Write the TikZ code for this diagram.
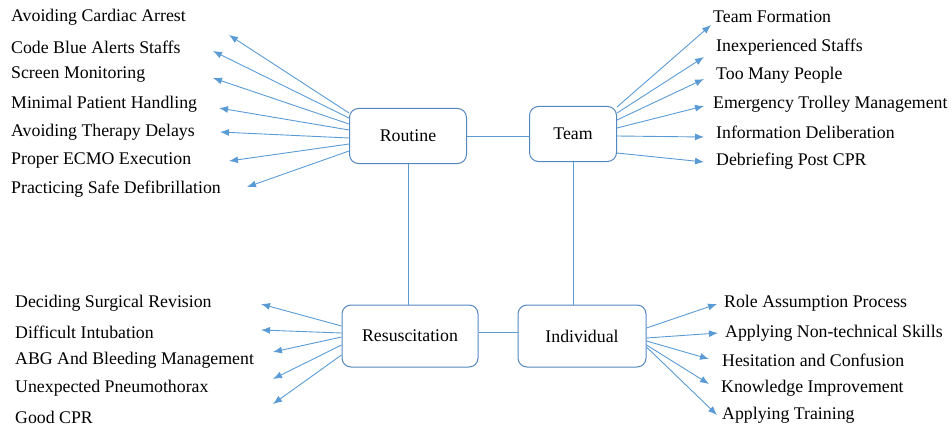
\documentclass[tikz,border=0pt]{standalone}
\usepackage{fontspec}
\setmainfont{Liberation Serif}
\usetikzlibrary{arrows.meta, positioning}
\definecolor{linkblue}{RGB}{91, 155, 213}
\definecolor{boxblue}{RGB}{84, 135, 190}

\begin{document}
\begin{tikzpicture}[x=1pt, y=-1pt,
  hub/.style={draw=boxblue, line width=1pt, rounded corners=9pt, minimum height=55pt,
              inner sep=0pt, font=\fontsize{17.8}{20}\selectfont},
  topic/.style={anchor=west, inner sep=0pt, font=\fontsize{17.8}{20}\selectfont},
  link/.style={draw=linkblue, line width=0.9pt},
  spoke/.style={link, -{Latex[length=9pt, width=7pt]}},
]
\useasboundingbox (0,0) rectangle (952,425);

% Four hubs
\node[hub, minimum width=117pt] (routine) at (408,136) {Routine};
\node[hub, minimum width=87pt] (team) at (573,134) {Team};
\node[hub, minimum width=136pt, minimum height=62pt] (resus) at (410,336) {Resuscitation};
\node[hub, minimum width=128pt, minimum height=62pt] (indiv) at (582,336) {Individual};

% Hub links
\draw[link] (routine.east) -- (routine.east -| team.west);
\draw[link] (routine.south) -- (routine.south |- resus.north);
\draw[link] (team.south) -- (team.south |- indiv.north);
\draw[link] ([yshift=4pt]resus.east) -- ([yshift=4pt]resus.east -| indiv.west);

% Routine topics
\node[topic] (arrest) at (11,17) {Avoiding Cardiac Arrest};
\node[topic] (codeblue) at (11,47) {Code Blue Alerts Staffs};
\node[topic] (screen) at (11,75) {Screen Monitoring};
\node[topic] (handling) at (11,104) {Minimal Patient Handling};
\node[topic] (delays) at (11,132) {Avoiding Therapy Delays};
\node[topic] (ecmo) at (11,161) {Proper ECMO Execution};
\node[topic] (defib) at (11,189) {Practicing Safe Defibrillation};

\coordinate (arrest-tip) at (229,35);
\coordinate (codeblue-tip) at (213,51);
\coordinate (screen-tip) at (213,78);
\coordinate (handling-tip) at (219,108);
\coordinate (delays-tip) at (220,132);
\coordinate (ecmo-tip) at (229,161);
\coordinate (defib-tip) at (247,187);

\draw[spoke] ([yshift=23pt]routine.west) -- (arrest-tip);
\draw[spoke] ([yshift=18pt]routine.west) -- (codeblue-tip);
\draw[spoke] ([yshift=12pt]routine.west) -- (screen-tip);
\draw[spoke] ([yshift=6pt]routine.west) -- (handling-tip);
\draw[spoke] ([yshift=-2pt]routine.west) -- (delays-tip);
\draw[spoke] ([yshift=-8pt]routine.west) -- (ecmo-tip);
\draw[spoke] ([yshift=-15pt]routine.west) -- (defib-tip);

% Team topics
\node[topic] (formation) at (713,17) {Team Formation};
\node[topic] (inexp) at (716,47) {Inexperienced Staffs};
\node[topic] (crowd) at (716,75) {Too Many People};
\node[topic] (trolley) at (713,104) {Emergency Trolley Management};
\node[topic] (info) at (716,132) {Information Deliberation};
\node[topic] (debrief) at (716,161) {Debriefing Post CPR};

\coordinate (formation-tip) at (711,25);
\coordinate (inexp-tip) at (704,57);
\coordinate (crowd-tip) at (704,79);
\coordinate (trolley-tip) at (704,106);
\coordinate (info-tip) at (704,137);
\coordinate (debrief-tip) at (704,162);

\draw[spoke] ([yshift=27pt]team.east) -- (formation-tip);
\draw[spoke] ([yshift=21pt]team.east) -- (inexp-tip);
\draw[spoke] ([yshift=14pt]team.east) -- (crowd-tip);
\draw[spoke] ([yshift=6pt]team.east) -- (trolley-tip);
\draw[spoke] ([yshift=-2pt]team.east) -- (info-tip);
\draw[spoke] ([yshift=-19pt]team.east) -- (debrief-tip);

% Resuscitation topics
\node[topic] (revision) at (15,303) {Deciding Surgical Revision};
\node[topic] (intub) at (15,332) {Difficult Intubation};
\node[topic] (abg) at (15,360) {ABG And Bleeding Management};
\node[topic] (pneumo) at (15,388) {Unexpected Pneumothorax};
\node[topic] (cpr) at (15,417) {Good CPR};

\coordinate (revision-tip) at (261,304);
\coordinate (intub-tip) at (261,330);
\coordinate (abg-tip) at (273,352);
\coordinate (pneumo-tip) at (273,379);
\coordinate (cpr-tip) at (273,404);

\draw[spoke] ([yshift=10pt]resus.west) -- (revision-tip);
\draw[spoke] ([yshift=3pt]resus.west) -- (intub-tip);
\draw[spoke] ([yshift=-1pt]resus.west) -- (abg-tip);
\draw[spoke] ([yshift=-9pt]resus.west) -- (pneumo-tip);
\draw[spoke] ([yshift=-19pt]resus.west) -- (cpr-tip);

% Individual topics
\node[topic] (role) at (724,303) {Role Assumption Process};
\node[topic] (nontech) at (725,333) {Applying Non-technical Skills};
\node[topic] (hesit) at (722,360) {Hesitation and Confusion};
\node[topic] (knowl) at (721,388) {Knowledge Improvement};
\node[topic] (training) at (722,415) {Applying Training};

\coordinate (role-tip) at (717,304);
\coordinate (nontech-tip) at (718,333);
\coordinate (hesit-tip) at (709,359);
\coordinate (knowl-tip) at (709,384);
\coordinate (training-tip) at (717,415);

\draw[spoke] ([yshift=8pt]indiv.east) -- (role-tip);
\draw[spoke] ([yshift=-2pt]indiv.east) -- (nontech-tip);
\draw[spoke] ([yshift=-5pt]indiv.east) -- (hesit-tip);
\draw[spoke] ([yshift=-9pt]indiv.east) -- (knowl-tip);
\draw[spoke] ([yshift=-11pt]indiv.east) -- (training-tip);
\end{tikzpicture}
\end{document}
